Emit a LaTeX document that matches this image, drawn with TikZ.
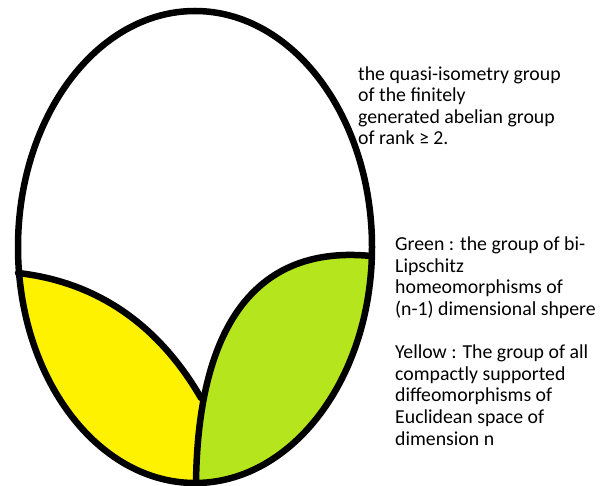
\documentclass[tikz,border=0pt]{standalone}
\usepackage{fontspec}
\setmainfont{Carlito}
\usetikzlibrary{positioning}
\definecolor{paintyellow}{RGB}{255,242,0}
\definecolor{paintgreen}{RGB}{181,230,29}

\begin{document}
\begin{tikzpicture}[x=1pt, y=-1pt,
    outline/.style={line width=6.5pt, line join=round, line cap=round},
    caption/.style={anchor=base west, inner sep=0pt, align=left, font=\fontsize{19.8}{21.6}\selectfont},
  ]
  \useasboundingbox (0,0) rectangle (600,486);

  % coloured parts, cut to the egg
  \begin{scope}
    \clip (195,247) ellipse [x radius=177pt, y radius=236pt];
    \fill[paintyellow] (18,273) .. controls (80,280) and (150,310) .. (201,398) -- (196,490) -- (0,490) -- (0,273) -- cycle;
    \fill[paintgreen] (196,490) -- (196,483) .. controls (198,320) and (260,245) .. (371,256) -- (400,256) -- (400,490) -- cycle;
  \end{scope}

  \draw[outline] (195,247) ellipse [x radius=177pt, y radius=236pt];
  \draw[outline] (18,273) .. controls (80,280) and (150,310) .. (201,398);
  \draw[outline] (196,483) .. controls (198,320) and (260,245) .. (371,256);

  % base anchor sits on the last line
  \node[caption] (qitext) at (358,145) {the quasi-isometry group\\of the finitely\\generated abelian group\\of rank ≥ 2.};
  \node[caption] (greentext) at (395,315.5) {Green : the group of bi-\\Lipschitz\\homeomorphisms of\\(n-1) dimensional shpere};
  \node[caption] (yellowtext) at (395,445) {Yellow : The group of all\\compactly supported\\diffeomorphisms of\\Euclidean space of\\dimension n};
\end{tikzpicture}
\end{document}
